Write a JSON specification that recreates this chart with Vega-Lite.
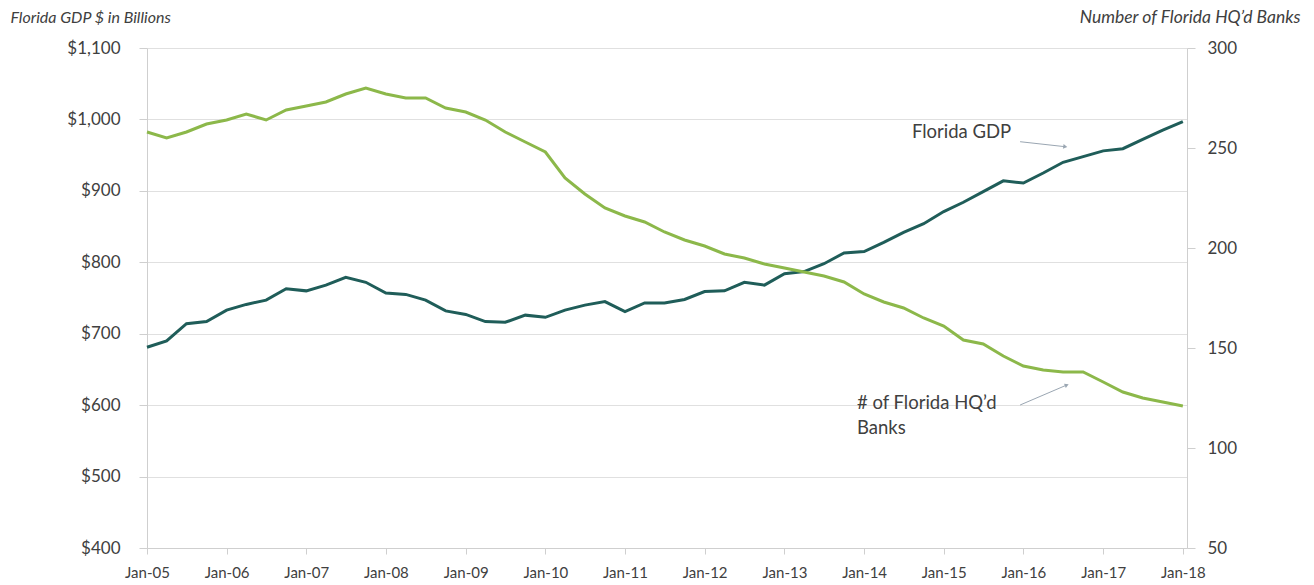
{
  "$schema": "https://vega.github.io/schema/vega-lite/v6.json",
  "width": 1040,
  "height": 500,
  "autosize": {"type": "none"},
  "padding": {"left": 147, "top": 48, "right": 127, "bottom": 37},
  "background": "white",
  "config": {
    "view": {"stroke": null},
    "font": "Lato",
    "axis": {
      "labelFont": "Lato",
      "labelColor": "#404040",
      "titleFont": "Lato",
      "titleColor": "#404040",
      "domainColor": "#cfcfcf",
      "tickColor": "#cfcfcf",
      "gridColor": "#e0e0e0"
    }
  },
  "datasets": {
    "quarterly": [
      {"date": "2005-01-01", "gdp": 681, "banks": 258},
      {"date": "2005-04-01", "gdp": 690, "banks": 255},
      {"date": "2005-07-01", "gdp": 714, "banks": 258},
      {"date": "2005-10-01", "gdp": 717, "banks": 262},
      {"date": "2006-01-01", "gdp": 733, "banks": 264},
      {"date": "2006-04-01", "gdp": 741, "banks": 267},
      {"date": "2006-07-01", "gdp": 747, "banks": 264},
      {"date": "2006-10-01", "gdp": 763, "banks": 269},
      {"date": "2007-01-01", "gdp": 760, "banks": 271},
      {"date": "2007-04-01", "gdp": 768, "banks": 273},
      {"date": "2007-07-01", "gdp": 779, "banks": 277},
      {"date": "2007-10-01", "gdp": 772, "banks": 280},
      {"date": "2008-01-01", "gdp": 757, "banks": 277},
      {"date": "2008-04-01", "gdp": 755, "banks": 275},
      {"date": "2008-07-01", "gdp": 747, "banks": 275},
      {"date": "2008-10-01", "gdp": 732, "banks": 270},
      {"date": "2009-01-01", "gdp": 727, "banks": 268},
      {"date": "2009-04-01", "gdp": 717, "banks": 264},
      {"date": "2009-07-01", "gdp": 716, "banks": 258},
      {"date": "2009-10-01", "gdp": 726, "banks": 253},
      {"date": "2010-01-01", "gdp": 723, "banks": 248},
      {"date": "2010-04-01", "gdp": 733, "banks": 235},
      {"date": "2010-07-01", "gdp": 740, "banks": 227},
      {"date": "2010-10-01", "gdp": 745, "banks": 220},
      {"date": "2011-01-01", "gdp": 731, "banks": 216},
      {"date": "2011-04-01", "gdp": 743, "banks": 213},
      {"date": "2011-07-01", "gdp": 743, "banks": 208},
      {"date": "2011-10-01", "gdp": 748, "banks": 204},
      {"date": "2012-01-01", "gdp": 759, "banks": 201},
      {"date": "2012-04-01", "gdp": 760, "banks": 197},
      {"date": "2012-07-01", "gdp": 772, "banks": 195},
      {"date": "2012-10-01", "gdp": 768, "banks": 192},
      {"date": "2013-01-01", "gdp": 784, "banks": 190},
      {"date": "2013-04-01", "gdp": 787, "banks": 188},
      {"date": "2013-07-01", "gdp": 798, "banks": 186},
      {"date": "2013-10-01", "gdp": 813, "banks": 183},
      {"date": "2014-01-01", "gdp": 815, "banks": 177},
      {"date": "2014-04-01", "gdp": 828, "banks": 173},
      {"date": "2014-07-01", "gdp": 842, "banks": 170},
      {"date": "2014-10-01", "gdp": 854, "banks": 165},
      {"date": "2015-01-01", "gdp": 871, "banks": 161},
      {"date": "2015-04-01", "gdp": 884, "banks": 154},
      {"date": "2015-07-01", "gdp": 899, "banks": 152},
      {"date": "2015-10-01", "gdp": 914, "banks": 146},
      {"date": "2016-01-01", "gdp": 911, "banks": 141},
      {"date": "2016-04-01", "gdp": 925, "banks": 139},
      {"date": "2016-07-01", "gdp": 940, "banks": 138},
      {"date": "2016-10-01", "gdp": 948, "banks": 138},
      {"date": "2017-01-01", "gdp": 956, "banks": 133},
      {"date": "2017-04-01", "gdp": 959, "banks": 128},
      {"date": "2017-07-01", "gdp": 972, "banks": 125},
      {"date": "2017-10-01", "gdp": 985, "banks": 123},
      {"date": "2018-01-01", "gdp": 997, "banks": 121}
    ],
    "gdpNote": [
      {"date": "2014-08-08", "gdp": 982.4, "label": "Florida GDP"}
    ],
    "gdpArrow": [
      {"date": "2015-12-17", "gdp": 968.8, "date2": "2016-07-11", "gdp2": 961.8}
    ],
    "banksNote": [
      {"date": "2013-11-29", "banks": 122.5, "label": "# of Florida HQ’d"},
      {"date": "2013-11-29", "banks": 110, "label": "Banks"}
    ],
    "banksArrow": [
      {"date": "2015-12-17", "banks": 121.5, "date2": "2016-07-18", "banks2": 131.5}
    ]
  },
  "data": {"name": "quarterly"},
  "encoding": {
    "x": {
      "field": "date",
      "type": "temporal",
      "scale": {
        "type": "utc",
        "nice": false,
        "domain": [
          {"year": 2005, "month": 1, "date": 1, "utc": true},
          {"year": 2018, "month": 1, "date": 20, "utc": true}
        ]
      },
      "axis": {
        "title": null,
        "grid": false,
        "format": "%b-%y",
        "values": [
          {"year": 2005, "month": 1, "date": 1, "utc": true},
          {"year": 2006, "month": 1, "date": 1, "utc": true},
          {"year": 2007, "month": 1, "date": 1, "utc": true},
          {"year": 2008, "month": 1, "date": 1, "utc": true},
          {"year": 2009, "month": 1, "date": 1, "utc": true},
          {"year": 2010, "month": 1, "date": 1, "utc": true},
          {"year": 2011, "month": 1, "date": 1, "utc": true},
          {"year": 2012, "month": 1, "date": 1, "utc": true},
          {"year": 2013, "month": 1, "date": 1, "utc": true},
          {"year": 2014, "month": 1, "date": 1, "utc": true},
          {"year": 2015, "month": 1, "date": 1, "utc": true},
          {"year": 2016, "month": 1, "date": 1, "utc": true},
          {"year": 2017, "month": 1, "date": 1, "utc": true},
          {"year": 2018, "month": 1, "date": 1, "utc": true}
        ],
        "labelFontSize": 15,
        "labelPadding": 11,
        "tickSize": 6,
        "labelFlush": false,
        "labelOverlap": false
      }
    }
  },
  "layer": [
    {
      "encoding": {
        "y": {
          "field": "gdp",
          "type": "quantitative",
          "scale": {"domain": [400, 1100], "nice": false, "zero": false},
          "axis": {
            "orient": "left",
            "values": [400, 500, 600, 700, 800, 900, 1000, 1100],
            "format": "$,.0f",
            "grid": true,
            "gridWidth": 1,
            "labelFontSize": 17,
            "labelPadding": 19,
            "tickSize": 8,
            "title": "Florida GDP $ in Billions",
            "titleAngle": 0,
            "titleAlign": "left",
            "titleBaseline": "middle",
            "titleX": -137,
            "titleY": -31,
            "titleFontSize": 16,
            "titleFontStyle": "italic",
            "titleFontWeight": "normal"
          }
        }
      },
      "layer": [
        {
          "mark": {"type": "line", "color": "#1f5d59", "strokeWidth": 3}
        },
        {
          "data": {"name": "gdpArrow"},
          "mark": {"type": "rule", "color": "#9aa6b2", "strokeWidth": 1},
          "encoding": {
            "x2": {"field": "date2"},
            "y2": {"field": "gdp2"}
          }
        },
        {
          "data": {"name": "gdpArrow"},
          "mark": {"type": "point", "shape": "triangle-right", "filled": true, "color": "#9aa6b2", "size": 22, "angle": 9, "opacity": 1},
          "encoding": {
            "x": {"field": "date2", "type": "temporal"},
            "y": {"field": "gdp2", "type": "quantitative"}
          }
        },
        {
          "data": {"name": "gdpNote"},
          "mark": {"type": "text", "align": "left", "baseline": "middle", "fontSize": 18.5, "color": "#404040", "font": "Lato"},
          "encoding": {"text": {"field": "label"}}
        }
      ]
    },
    {
      "encoding": {
        "y": {
          "field": "banks",
          "type": "quantitative",
          "scale": {"domain": [50, 300], "nice": false, "zero": false},
          "axis": {
            "orient": "right",
            "values": [50, 100, 150, 200, 250, 300],
            "grid": false,
            "labelFontSize": 17,
            "labelPadding": 12,
            "tickSize": 8,
            "title": "Number of Florida HQ’d Banks",
            "titleAngle": 0,
            "titleAlign": "right",
            "titleBaseline": "middle",
            "titleX": 113,
            "titleY": -31,
            "titleFontSize": 17.5,
            "titleFontStyle": "italic",
            "titleFontWeight": "normal"
          }
        }
      },
      "layer": [
        {
          "mark": {"type": "line", "color": "#8cb84a", "strokeWidth": 3}
        },
        {
          "data": {"name": "banksArrow"},
          "mark": {"type": "rule", "color": "#9aa6b2", "strokeWidth": 1},
          "encoding": {
            "x2": {"field": "date2"},
            "y2": {"field": "banks2"}
          }
        },
        {
          "data": {"name": "banksArrow"},
          "mark": {"type": "point", "shape": "triangle-right", "filled": true, "color": "#9aa6b2", "size": 22, "angle": -23, "opacity": 1},
          "encoding": {
            "x": {"field": "date2", "type": "temporal"},
            "y": {"field": "banks2", "type": "quantitative"}
          }
        },
        {
          "data": {"name": "banksNote"},
          "mark": {"type": "text", "align": "left", "baseline": "middle", "fontSize": 18.5, "color": "#404040", "font": "Lato"},
          "encoding": {"text": {"field": "label"}}
        }
      ]
    }
  ],
  "resolve": {"scale": {"y": "independent"}}
}
